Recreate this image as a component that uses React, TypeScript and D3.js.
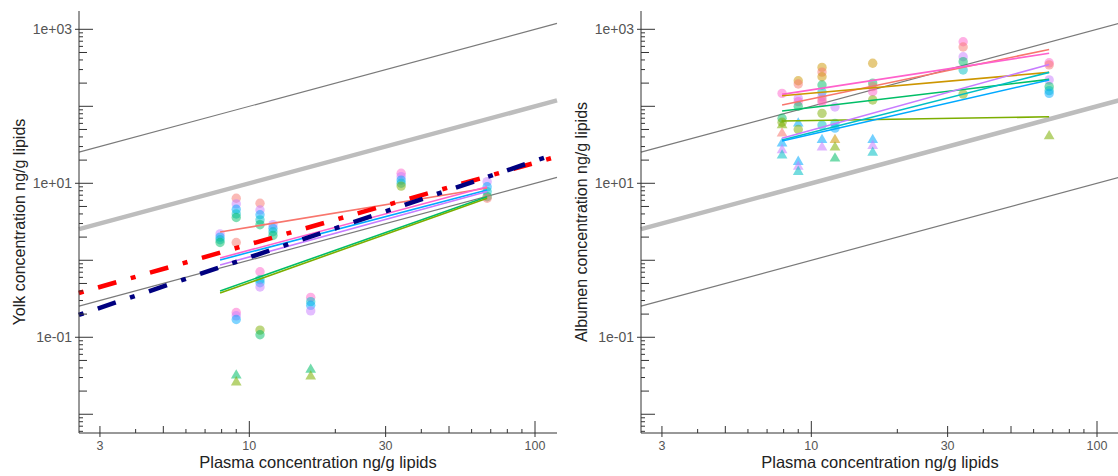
import React from "react";
import * as d3 from "d3";

const plasma = [7.9, 9.0, 10.9, 12.1, 16.4, 34, 68];
const seriesColors = ["#F8766D", "#CD9600", "#7CAE00", "#00BE67", "#00BFC4", "#00A9FF", "#C77CFF", "#FF61CC"];

const xLabels = [3, 10, 30, 100];
const yLabels = [0.1, 10, 1000];
const refRatios = [10, 1, 0.1];

// [series, plasma column, concentration, detected]
const yolkPoints = [
  [6, 0, 2.2, 1], [5, 0, 2.0, 1], [4, 0, 1.85, 1], [3, 0, 1.7, 1],
  [0, 1, 6.4, 1], [6, 1, 5.4, 1], [5, 1, 4.6, 1], [4, 1, 4.0, 1], [3, 1, 3.6, 1], [0, 1, 1.7, 1],
  [7, 1, 0.21, 1], [6, 1, 0.19, 1], [5, 1, 0.17, 1], [3, 1, 0.032, 0], [2, 1, 0.026, 0],
  [0, 2, 5.5, 1], [6, 2, 4.5, 1], [5, 2, 3.9, 1], [4, 2, 3.35, 1], [3, 2, 2.9, 1],
  [7, 2, 0.71, 1], [4, 2, 0.56, 1], [5, 2, 0.51, 1], [6, 2, 0.45, 1], [2, 2, 0.124, 1], [3, 2, 0.108, 1],
  [6, 3, 2.9, 1], [5, 3, 2.6, 1], [4, 3, 2.35, 1], [3, 3, 2.1, 1],
  [7, 4, 0.33, 1], [4, 4, 0.29, 1], [5, 4, 0.26, 1], [6, 4, 0.22, 1], [3, 4, 0.038, 0], [2, 4, 0.031, 0],
  [7, 5, 13.5, 1], [6, 5, 12.2, 1], [5, 5, 11, 1], [4, 5, 10, 1], [2, 5, 9.2, 1],
  [6, 6, 10.5, 1], [5, 6, 9.0, 1], [4, 6, 7.8, 1], [3, 6, 6.7, 1], [0, 6, 6.4, 1],
];

const albumenPoints = [
  [7, 0, 147, 1], [3, 0, 70, 1], [2, 0, 62, 1], [2, 0, 57, 0], [0, 0, 44.5, 0], [5, 0, 33, 0], [6, 0, 27, 0], [4, 0, 23, 0],
  [1, 1, 215, 1], [0, 1, 195, 1], [6, 1, 127, 1], [7, 1, 115, 1], [3, 1, 100, 1], [5, 1, 60, 0], [2, 1, 50, 1],
  [5, 1, 19, 0], [6, 1, 16.4, 0], [4, 1, 14.1, 0],
  [1, 2, 320, 1], [0, 2, 278, 1], [1, 2, 242, 1], [3, 2, 189, 1], [4, 2, 153, 1], [6, 2, 133, 1], [0, 2, 121, 1],
  [7, 2, 113, 1], [2, 2, 81, 1], [4, 2, 57, 1], [5, 2, 36.5, 0], [6, 2, 29.3, 0],
  [6, 3, 98, 1], [4, 3, 60, 1], [5, 3, 52, 1], [1, 3, 36.5, 0], [2, 3, 29.3, 0], [3, 3, 21, 0],
  [1, 4, 362, 1], [3, 4, 200, 1], [0, 4, 180, 1], [7, 4, 155, 1], [2, 4, 121, 1], [5, 4, 36.5, 0], [6, 4, 30.5, 0], [4, 4, 25, 0],
  [7, 5, 690, 1], [0, 5, 590, 1], [6, 5, 440, 1], [3, 5, 380, 1], [4, 5, 296, 1], [2, 5, 144, 1],
  [7, 6, 367, 1], [0, 6, 345, 1], [6, 6, 220, 1], [3, 6, 180, 1], [4, 6, 160, 1], [5, 6, 147, 1], [2, 6, 41, 0],
];

// [series, fitted value at first plasma column, fitted value at last column]
const yolkFits = [
  [0, 2.33, 8.7], [7, 1.07, 9.0], [5, 1.01, 8.2], [6, 0.87, 7.8], [3, 0.4, 6.7], [2, 0.375, 6.4],
];
const albumenFits = [
  [0, 104, 547], [7, 143, 488], [1, 137, 276], [3, 87, 224], [2, 64.5, 73], [6, 38.4, 350], [4, 36.5, 276], [5, 35.5, 220],
];

// model predictions (yolk only), over the full x range
const modelX = [2.53, 119];
const redModel = [0.376, 22.2];
const navyModel = [0.195, 24.3];

const xDomain = [2.534, 119.4];
const yDomain = [0.00571, 1729];

const W = 478;
const yTop = 11;
const yBot = 433;

const Panel = ({ left, yTitle, titleX, points, fits, models }) => {
  const x = d3.scaleLog().domain(xDomain).range([left, left + W]);
  const y = d3.scaleLog().domain(yDomain).range([yBot, yTop]);
  const line = d3.line().x((d) => x(d[0])).y((d) => y(d[1]));
  const tri = d3.symbol(d3.symbolTriangle, 50)();

  const isDecade = (v) => Math.abs(Math.log10(v) - Math.round(Math.log10(v))) < 1e-6;
  const lead = (v) => Math.round(v / Math.pow(10, Math.floor(Math.log10(v) + 1e-9)));
  const labelY = (v) => {
    const e = Math.round(Math.log10(v));
    return "1e" + (e < 0 ? "-" : "+") + String(Math.abs(e)).padStart(2, "0");
  };

  const xTicks = x.ticks();
  const yTicks = y.ticks();

  return (
    <g>
      {/* reference lines y = k x */}
      {refRatios.map((k) => (
        <path
          key={k}
          d={line([[xDomain[0], xDomain[0] * k], [xDomain[1], xDomain[1] * k]])}
          stroke={k === 1 ? "#bdbdbd" : "#7a7a7a"}
          strokeWidth={k === 1 ? 4.5 : 1.2}
          fill="none"
        />
      ))}

      {points.map((p, i) => {
        const cx = x(plasma[p[1]]);
        const cy = y(p[2]);
        const c = seriesColors[p[0]];
        return p[3] ? (
          <circle key={i} cx={cx} cy={cy} r={4.7} fill={c} fillOpacity={0.5} />
        ) : (
          <path key={i} d={tri} transform={`translate(${cx},${cy})`} fill={c} fillOpacity={0.55} />
        );
      })}

      {fits.map((f, i) => (
        <path
          key={i}
          d={line([[plasma[0], f[1]], [plasma[plasma.length - 1], f[2]]])}
          stroke={seriesColors[f[0]]}
          strokeWidth={1.6}
          fill="none"
        />
      ))}

      {models.map((m, i) => (
        <path
          key={i}
          d={line([[modelX[0], m.v[0]], [modelX[1], m.v[1]]])}
          stroke={m.color}
          strokeWidth={4.5}
          strokeDasharray="5 15 19 15"
          fill="none"
        />
      ))}

      {/* axes */}
      <line x1={left} x2={left + W} y1={yBot} y2={yBot} stroke="#333" strokeWidth={1} />
      <line x1={left} x2={left} y1={yTop} y2={yBot} stroke="#333" strokeWidth={1} />

      {xTicks.map((v) => {
        const px = x(v);
        const lab = xLabels.includes(v);
        const len = isDecade(v) ? 12 : lead(v) === 5 || lab ? 7 : 4;
        return (
          <g key={v}>
            <line x1={px} x2={px} y1={yBot + (lab ? 4 : 0)} y2={yBot - len} stroke="#333" />
            {lab && (
              <text x={px} y={yBot + 17} textAnchor="middle" fontSize={12.5} fill="#555">
                {v}
              </text>
            )}
          </g>
        );
      })}

      {yTicks.map((v) => {
        const py = y(v);
        const lab = yLabels.some((l) => Math.abs(l - v) / l < 1e-6);
        const len = isDecade(v) ? 14 : lead(v) === 5 || lead(v) === 2 ? 8 : 4;
        return (
          <g key={v}>
            <line x1={left - (lab ? 4 : 0)} x2={left + len} y1={py} y2={py} stroke="#333" />
            {lab && (
              <text x={left - 7} y={py} dy="0.35em" textAnchor="end" fontSize={14} fill="#555">
                {labelY(v)}
              </text>
            )}
          </g>
        );
      })}

      <text x={left + W / 2} y={468} textAnchor="middle" fontSize={16.5} fill="#222">
        Plasma concentration ng/g lipids
      </text>
      <text
        transform={`translate(${titleX},${(yTop + yBot) / 2}) rotate(-90)`}
        textAnchor="middle"
        dy="0.35em"
        fontSize={16}
        fill="#222"
      >
        {yTitle}
      </text>
    </g>
  );
};

export default function App() {
  return (
    <svg
      width={1118}
      height={476}
      style={{ position: "absolute", left: 0, top: 0, background: "#fff", fontFamily: "Liberation Sans, Arial, sans-serif" }}
    >
      <Panel
        left={79}
        titleX={19}
        yTitle="Yolk concentration ng/g lipids"
        points={yolkPoints}
        fits={yolkFits}
        models={[
          { color: "#ff0000", v: redModel },
          { color: "#000080", v: navyModel },
        ]}
      />
      <Panel
        left={641}
        titleX={581}
        yTitle="Albumen concentration ng/g lipids"
        points={albumenPoints}
        fits={albumenFits}
        models={[]}
      />
    </svg>
  );
}
